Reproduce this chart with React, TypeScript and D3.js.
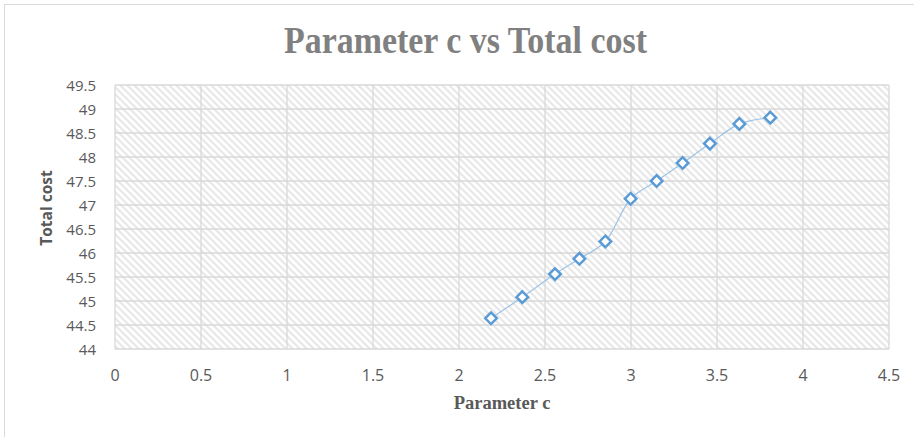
import React from "react";
import * as d3 from "d3";

const paramC = [2.186, 2.368, 2.558, 2.70, 2.851, 2.998, 3.149, 3.30, 3.459, 3.63, 3.81];
const totalCost = [44.64, 45.08, 45.56, 45.88, 46.24, 47.13, 47.5, 47.875, 48.28, 48.69, 48.82];
const xTicks = [0, 0.5, 1, 1.5, 2, 2.5, 3, 3.5, 4, 4.5];
const yTicks = [44, 44.5, 45, 45.5, 46, 46.5, 47, 47.5, 48, 48.5, 49, 49.5];

const W = 914;
const H = 437;

export default function App() {
  const x = d3.scaleLinear().domain([0, 4.5]).range([115, 889]);
  const y = d3.scaleLinear().domain([44, 49.5]).range([349, 85]);
  const pts: [number, number][] = paramC.map((c, i) => [x(c), y(totalCost[i])]);
  const line = d3.line().curve(d3.curveCatmullRom.alpha(0.5))(pts) || "";
  const diamond = (cx: number, cy: number, r: number) =>
    `M${cx},${cy - r}L${cx + r},${cy}L${cx},${cy + r}L${cx - r},${cy}Z`;

  return (
    <svg
      width={W}
      height={H}
      style={{ position: "absolute", left: 0, top: 0 }}
    >
      <defs>
        <pattern id="hatch" patternUnits="userSpaceOnUse" width={7} height={7}>
          <rect width={7} height={7} fill="#ffffff" />
          <path
            d="M-1,-1L8,8M-1,6L1,8M6,-1L8,1"
            stroke="#e8e8e8"
            strokeWidth={2.2}
          />
        </pattern>
      </defs>
      <rect x={0} y={0} width={W} height={H} fill="#ffffff" />
      <rect x={4.5} y={4.5} width={910} height={440} fill="#ffffff" stroke="#d9d9d9" strokeWidth={1} />
      <text
        x={465.5}
        y={53}
        textAnchor="middle"
        fontFamily="'Liberation Serif', 'Times New Roman', serif"
        fontWeight="bold"
        fontSize={37}
        fill="#808080"
        textLength={363}
        lengthAdjust="spacingAndGlyphs"
      >
        Parameter c vs Total cost
      </text>
      <rect
        x={x(0)}
        y={y(49.5)}
        width={x(4.5) - x(0)}
        height={y(44) - y(49.5)}
        fill="url(#hatch)"
      />
      {yTicks.map((t) => (
        <line key={"gy" + t} x1={x(0)} x2={x(4.5)} y1={y(t)} y2={y(t)} stroke="#d9d9d9" strokeWidth={1.3} />
      ))}
      {xTicks.map((t) => (
        <line key={"gx" + t} x1={x(t)} x2={x(t)} y1={y(44)} y2={y(49.5)} stroke="#d9d9d9" strokeWidth={1.3} />
      ))}
      {yTicks.map((t) => (
        <text
          key={"ty" + t}
          x={96}
          y={y(t) + 5.5}
          textAnchor="end"
          fontFamily="'Open Sans', sans-serif"
          fontSize={15}
          fill="#595959"
        >
          {String(t)}
        </text>
      ))}
      {xTicks.map((t) => (
        <text
          key={"tx" + t}
          x={x(t)}
          y={381}
          textAnchor="middle"
          fontFamily="'Open Sans', sans-serif"
          fontSize={16}
          fill="#595959"
        >
          {String(t)}
        </text>
      ))}
      <text
        x={502}
        y={409}
        textAnchor="middle"
        fontFamily="'Liberation Serif', 'Times New Roman', serif"
        fontWeight="bold"
        fontSize={18.5}
        fill="#595959"
      >
        Parameter c
      </text>
      <text
        transform={`translate(52,208) rotate(-90)`}
        textAnchor="middle"
        fontFamily="'Open Sans', sans-serif"
        fontWeight="bold"
        fontSize={15.5}
        fill="#595959"
      >
        Total cost
      </text>
      <path d={line} fill="none" stroke="#9dc3e6" strokeWidth={1.2} />
      {pts.map(([px, py], i) => (
        <path
          key={"m" + i}
          d={diamond(px, py, 5.8)}
          fill="#ffffff"
          stroke="#5b9bd5"
          strokeWidth={2.5}
        />
      ))}
    </svg>
  );
}
